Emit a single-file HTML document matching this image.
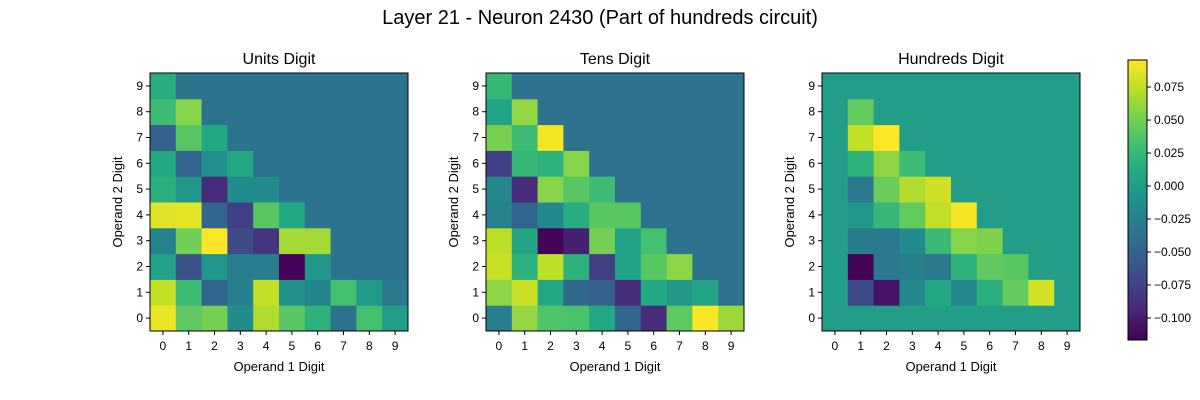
<!DOCTYPE html>
<html><head><meta charset="utf-8"><style>
html,body{margin:0;padding:0;background:#fff;overflow:hidden}
svg{display:block;font-family:"Liberation Sans","DejaVu Sans",sans-serif}
</style></head><body>
<svg id="chart" width="1200" height="400" viewBox="0 0 1200 400">
<text x="600" y="24" font-size="20" text-anchor="middle" fill="#000">Layer 21 - Neuron 2430 (Part of hundreds circuit)</text>
</svg>
<script>
const digits = [0,1,2,3,4,5,6,7,8,9];
const panelTitles = ["Units Digit","Tens Digit","Hundreds Digit"];
const cbTicks = [0.075,0.050,0.025,0.000,-0.025,-0.050,-0.075,-0.100];
const cbTickLabels = ["0.075","0.050","0.025","0.000","−0.025","−0.050","−0.075","−0.100"];
const vmin = -0.1167, vmax = 0.0955;
// rows: operand 2 digit 0..9, columns: operand 1 digit 0..9
const unitsValues = [
 [.089,.043,.051,-.014,.070,.040,.019,-.035,.032,.001],
 [.076,.028,-.048,-.025,.076,-.010,-.021,.032,-.002,-.031],
 [.005,-.062,-.006,-.027,-.027,-.115,-.006,-.035,-.035,-.035],
 [-.023,.049,.095,-.069,-.084,.066,.066,-.035,-.035,-.035],
 [.085,.087,-.048,-.077,.040,.011,-.035,-.035,-.035,-.035],
 [.017,-.006,-.090,-.014,-.014,-.035,-.035,-.035,-.035,-.035],
 [.011,-.048,-.010,.011,-.035,-.035,-.035,-.035,-.035,-.035],
 [-.052,.040,.011,-.035,-.035,-.035,-.035,-.035,-.035,-.035],
 [.028,.057,-.035,-.035,-.035,-.035,-.035,-.035,-.035,-.035],
 [.015,-.035,-.035,-.035,-.035,-.035,-.035,-.035,-.035,-.035]
];
const tensValues = [
 [-.027,.061,.036,.034,.011,-.048,-.090,.043,.095,.064],
 [.059,.078,.011,-.046,-.052,-.090,.011,-.004,.007,-.037],
 [.078,.019,.074,.019,-.077,.005,.040,.059,-.037,-.037],
 [.074,.007,-.115,-.098,.051,.005,.032,-.037,-.037,-.037],
 [-.023,-.048,-.018,.015,.040,.040,-.037,-.037,-.037,-.037],
 [-.018,-.090,.057,.040,.028,-.037,-.037,-.037,-.037,-.037],
 [-.077,.024,.019,.057,-.037,-.037,-.037,-.037,-.037,-.037],
 [.053,.028,.093,-.037,-.037,-.037,-.037,-.037,-.037,-.037],
 [.007,.061,-.037,-.037,-.037,-.037,-.037,-.037,-.037,-.037],
 [.024,-.037,-.037,-.037,-.037,-.037,-.037,-.037,-.037,-.037]
];
const hundredsValues = [
 [.001,.001,.001,.001,.001,.001,.001,.001,.001,.001],
 [.001,-.069,-.105,-.018,.011,-.018,.017,.045,.082,.001],
 [.001,-.115,-.031,-.025,-.031,.019,.043,.040,.001,.001],
 [.001,-.029,-.031,-.014,.026,.057,.055,.001,.001,.001],
 [.001,-.004,.024,.045,.076,.093,.001,.001,.001,.001],
 [.001,-.031,.047,.070,.080,.001,.001,.001,.001,.001],
 [.001,.019,.059,.028,.001,.001,.001,.001,.001,.001],
 [.001,.076,.095,.001,.001,.001,.001,.001,.001,.001],
 [.001,.045,.001,.001,.001,.001,.001,.001,.001,.001],
 [.001,.001,.001,.001,.001,.001,.001,.001,.001,.001]
];
const panelData = [unitsValues, tensValues, hundredsValues];

const vir = ["#440154","#482475","#414487","#355f8d","#2a788e","#21918c","#22a884","#44bf70","#7ad151","#bddf26","#fde725"];
function hex(h){return [1,3,5].map(i=>parseInt(h.substr(i,2),16));}
function color(v){
  let t=(v-vmin)/(vmax-vmin); t=Math.max(0,Math.min(1,t));
  const p=t*10, i=Math.min(9,Math.floor(p)), f=p-i;
  const a=hex(vir[i]), b=hex(vir[i+1]);
  return "rgb("+a.map((c,k)=>Math.round(c+(b[k]-c)*f)).join(",")+")";
}
const NS="http://www.w3.org/2000/svg";
const svg=document.getElementById("chart");
function mk(tag,attrs,parent){const e=document.createElementNS(NS,tag);for(const k in attrs)e.setAttribute(k,attrs[k]);(parent||svg).appendChild(e);return e;}

const panelX=[150,486,822], axTop=73, size=258, cell=size/10;
panelData.forEach((data,p)=>{
  const g=mk("g",{});
  
  
  const x0=panelX[p];
  const xs=d=>x0+d*cell, ys=d=>axTop+(9-d)*cell;
  data.forEach((row,yi)=>row.forEach((v,xi)=>{
    const r=mk("rect",{x:xs(xi),y:ys(yi),width:cell+0.5,height:cell+0.5,fill:color(v)},g);
    
    
  }));
  const fr=mk("rect",{x:x0,y:axTop,width:size,height:size,fill:"none",stroke:"#000","stroke-width":1},g);
  
  
  digits.forEach(d=>{
    const cx=xs(d)+cell/2;
    mk("line",{x1:cx,y1:axTop+size,x2:cx,y2:axTop+size+4,stroke:"#000"},g);
    const tx=mk("text",{x:cx,y:axTop+size+19,"font-size":12,"text-anchor":"middle"},g);
    tx.textContent=d;
    
    
    const cy=ys(d)+cell/2;
    mk("line",{x1:x0-4,y1:cy,x2:x0,y2:cy,stroke:"#000"},g);
    const ty=mk("text",{x:x0-7,y:cy+4,"font-size":12,"text-anchor":"end"},g);
    ty.textContent=d;
    
    
  });
  const t=mk("text",{x:x0+size/2,y:64,"font-size":16,"text-anchor":"middle"},g);
  t.textContent=panelTitles[p];
  
  
  const xl=mk("text",{x:x0+size/2,y:371,"font-size":13,"text-anchor":"middle"},g);
  xl.textContent="Operand 1 Digit";
  
  
  const yl=mk("text",{x:0,y:0,"font-size":13,"text-anchor":"middle",transform:"translate("+(x0-28)+","+(axTop+size/2)+") rotate(-90)"},g);
  yl.textContent="Operand 2 Digit";
  
  
});

// colorbar
const cbX=1128, cbY=60, cbW=19, cbH=280;
const cb=mk("g",{});


const defs=mk("defs",{},cb);
const lg=mk("linearGradient",{id:"cbg",x1:0,y1:1,x2:0,y2:0},defs);
vir.forEach((c,i)=>mk("stop",{offset:i/10,"stop-color":c},lg));
mk("rect",{x:cbX,y:cbY,width:cbW,height:cbH,fill:"url(#cbg)",stroke:"#000","stroke-width":1},cb);
const cbs=v=>cbY+cbH*(vmax-v)/(vmax-vmin);
cbTicks.forEach((v,i)=>{
  const y=cbs(v);
  mk("line",{x1:cbX+cbW,y1:y,x2:cbX+cbW+4,y2:y,stroke:"#000"},cb);
  const t=mk("text",{x:cbX+cbW+7,y:y+4,"font-size":12},cb);
  t.textContent=cbTickLabels[i];
  
  
});
</script>
</body></html>
